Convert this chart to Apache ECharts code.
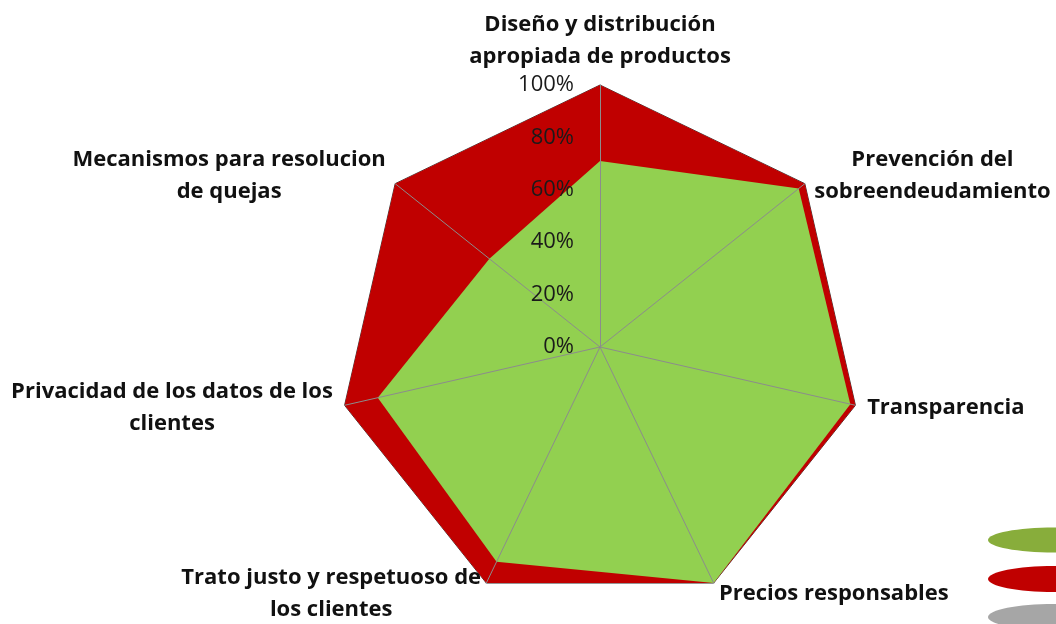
<!DOCTYPE html>
<html>
<head>
<meta charset="utf-8">
<script src="https://cdn.jsdelivr.net/npm/echarts@6/dist/echarts.min.js"></script>
<style>
html,body{margin:0;padding:0;background:#ffffff;}
#chart{width:1056px;height:624px;}
</style>
</head>
<body>
<div id="chart"></div>
<script>
// listed clockwise starting at the top
const categories = [
  'Diseño y distribución\napropiada de productos',
  'Prevención del\nsobreendeudamiento',
  'Transparencia',
  'Precios responsables',
  'Trato justo y respetuoso de\nlos clientes',
  'Privacidad de los datos de los\nclientes',
  'Mecanismos para resolucion\nde quejas'
];
const targetValues = [100, 100, 100, 100, 100, 100, 100];
const actualValues = [71, 97, 98, 100, 91, 87, 54];
const tickMax = 100;
const tickCount = 5;

// ECharts radar runs counter-clockwise: reorder to draw clockwise
const order = [0, 6, 5, 4, 3, 2, 1];
const reorder = arr => order.map(i => arr[i]);

const chart = echarts.init(document.getElementById('chart'), null, {renderer: 'canvas'});

const nameFormatter = function (name) {
  return name.split('\n').map(l => '{c|' + l + '}').join('\n');
};
const nameFont = 'Open Sans';

const option = {
  backgroundColor: '#ffffff',
  animation: false,
  radar: {
    z: 3,
    center: [600, 347],
    radius: 262,
    startAngle: 90,
    shape: 'polygon',
    splitNumber: tickCount,
    axisNameGap: 12,
    axisName: {
      formatter: nameFormatter,
      color: '#111111',
      fontFamily: nameFont,
      fontWeight: 'bold',
      fontSize: 22,
      rich: {
        c: { align: 'center', fontFamily: nameFont, fontWeight: 'bold', fontSize: 22, color: '#111111', lineHeight: 32 }
      }
    },
    axisLine: { show: true, lineStyle: { color: '#8c8c8c', width: 1 } },
    axisTick: { show: false },
    axisLabel: { show: false },
    splitLine: { show: false },
    splitArea: { show: false },
    indicator: reorder(categories).map((c, i) => {
      const ind = { name: c, min: 0, max: tickMax };
      if (i === 0) {
        ind.axisLabel = {
          show: true,
          formatter: '{value}%',
          fontFamily: 'Open Sans',
          fontSize: 22,
          color: '#1a1a1a',
          margin: 26
        };
      }
      return ind;
    })
  },
  series: [
    {
      type: 'radar',
      z: 2,
      symbol: 'none',
      data: [
        {
          value: reorder(targetValues),
          name: 'Meta',
          lineStyle: { color: '#404040', width: 1 },
          areaStyle: { color: '#C00000', opacity: 1 }
        },
        {
          value: reorder(actualValues),
          name: 'Actual',
          lineStyle: { width: 0, opacity: 0 },
          areaStyle: { color: '#92D050', opacity: 1 }
        }
      ]
    }
  ],
  graphic: [
    { type: 'ellipse', shape: { cx: 1054, cy: 540, rx: 66, ry: 12.5 }, style: { fill: '#88AD3B' } },
    { type: 'ellipse', shape: { cx: 1054, cy: 579, rx: 66, ry: 13 }, style: { fill: '#C00000' } },
    { type: 'ellipse', shape: { cx: 1054, cy: 617, rx: 66, ry: 13 }, style: { fill: '#A6A6A6' } }
  ]
};
chart.setOption(option);
</script>
</body>
</html>
